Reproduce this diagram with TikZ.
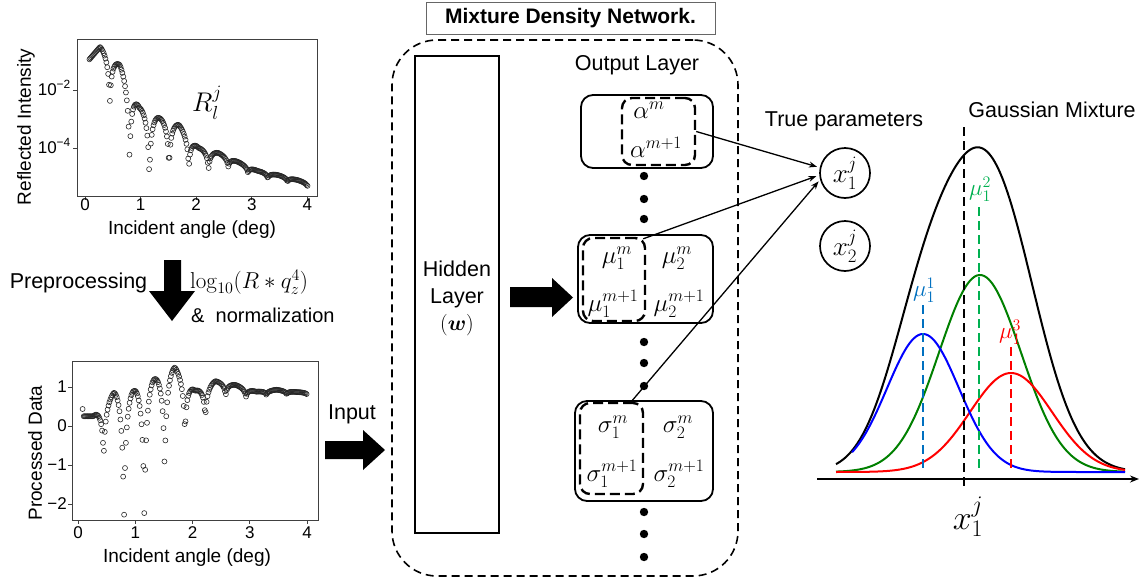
\documentclass[tikz,border=0pt]{standalone}
\usepackage{fix-cm}
\usepackage{amsmath}
\usepackage[no-math]{fontspec}
\setmainfont{Liberation Sans}
\usetikzlibrary{arrows.meta,calc}

\definecolor{mublue}{RGB}{0,112,192}
\definecolor{mugreen}{RGB}{0,176,80}
\definecolor{curvegreen}{RGB}{0,128,0}

\tikzset{
  every node/.style={inner sep=0pt},
  txt/.style={font=\fontsize{21.5}{25}\selectfont},
  axtxt/.style={font=\fontsize{19}{22}\selectfont},
  ticktxt/.style={font=\fontsize{17}{20}\selectfont},
  mth/.style={font=\fontsize{25}{29}\selectfont},
  frame/.style={draw=black!75, line width=0.9pt},
  datapt/.style={draw=black!85, line width=0.6pt},
  outbox/.style={draw, line width=1.8pt, rounded corners=12pt},
  grpbox/.style={draw, line width=2.4pt, dash pattern=on 10pt off 5pt, rounded corners=10pt},
  mdnbox/.style={draw, line width=1.6pt, dash pattern=on 8pt off 5pt, rounded corners=45pt},
  titlebox/.style={draw=black!60, line width=1pt},
  link/.style={line width=1.3pt, -{Stealth[length=8pt,width=6pt]}},
  blockarrow/.style={fill=black},
  param/.style={circle, draw, line width=1.7pt, minimum size=50pt, font=\fontsize{27}{30}\selectfont},
  curve/.style={line width=2pt},
  gdash/.style={line width=2pt, dash pattern=on 9pt off 5pt},
  mulbl/.style={font=\fontsize{23}{27}\selectfont},
}

\begin{document}
\begin{tikzpicture}[x=1pt,y=-1pt]
\useasboundingbox (0,0) rectangle (1143,581);

% ---------------- raw reflectivity plot ----------------
\draw[frame] (77,39) rectangle (317,196);
\foreach \k in {0,...,4}{
  \draw[frame] ({85+55.6*\k},196) -- ++(0,4);
  \node[ticktxt] at ({85+55.6*\k},205) {\k};
}
\draw[frame] (77,90) -- ++(-4,0);
\draw[frame] (77,148) -- ++(-4,0);
\node[ticktxt, anchor=east] at (71,88) {10\textsuperscript{−2}};
\node[ticktxt, anchor=east] at (71,146) {10\textsuperscript{−4}};
\node[axtxt] at (192,230) {Incident angle (deg)};
\node[axtxt, rotate=90] at (26,127) {Reflected Intensity};
\node[font=\fontsize{27}{30}\selectfont] at (207,103) {$R_l^j$};
\foreach \i in {0,...,245}{
  \pgfmathsetmacro\pX{0.08+0.016*\i}
  \pgfmathtruncatemacro\pK{floor((\pX+0.085)/0.355)}
  \pgfmathtruncatemacro\pN{\pK+1}
  \pgfmathsetmacro\pT{(\pX+0.085)/0.355-\pK}
  \pgfmathsetmacro\pF{ln(3.61/(1.81+1.8*cos(360*(\pX-0.27)/0.355)))/5.8889}
  \pgfmathsetmacro\pA{{70,47,65,108,118,125,148,153,162,171,175,180,186,190}[\pK]}
  \pgfmathsetmacro\pB{{70,47,65,108,118,125,148,153,162,171,175,180,186,190}[\pN]}
  \pgfmathsetmacro\pD{{0,45,70,62,44,30,18,9,6,5,4,3,2,2}[\pK]}
  \pgfmathsetmacro\pY{\pA*(1-\pT)+\pB*\pT+\pD*\pF}
  \draw[datapt] ({85+55.6*\pX},\pY) circle[radius=2.5pt];
}

% ---------------- preprocessing step ----------------
\node[txt] (prep) at (78.5,283) {Preprocessing};
\fill[blockarrow] (164,260) -- (181,260) -- (181,291) -- (195,291) -- (172,321) -- (149,291) -- (164,291) -- cycle;
\node[font=\fontsize{23}{27}\selectfont, anchor=west] (formula) at (190,282) {$\log_{10}(R * q_z^4)$};
\node[font=\fontsize{20}{24}\selectfont, anchor=west] (norm) at (191,315) {\&\ \ normalization};

% ---------------- processed data plot ----------------
\draw[frame] (72,361) rectangle (318,520);
\foreach \k in {0,...,4}{
  \draw[frame] ({78+57.3*\k},520) -- ++(0,4);
  \node[ticktxt] at ({78+57.3*\k},533) {\k};
}
\foreach \v/\t in {1/1,0/0,-1/−1,-2/−2}{
  \draw[frame] (72,{426-39*\v}) -- ++(-4,0);
  \node[ticktxt, anchor=east] at (67,{426-39*\v}) {\t};
}
\node[axtxt] at (187,558) {Incident angle (deg)};
\node[axtxt, rotate=90] at (35,453) {Processed Data};
\draw[datapt] (82.6,409) circle[radius=2.5pt];
\foreach \i in {0,...,243}{
  \pgfmathsetmacro\pX{0.1+0.016*\i}
  \pgfmathtruncatemacro\pK{floor((\pX+0.085)/0.355)}
  \pgfmathtruncatemacro\pN{\pK+1}
  \pgfmathsetmacro\pT{(\pX+0.085)/0.355-\pK}
  \pgfmathsetmacro\pF{ln(3.61/(1.81+1.8*cos(360*(\pX-0.27)/0.355)))/5.8889}
  \pgfmathsetmacro\pA{{0.25,0.25,0.85,0.9,1.2,1.5,0.9,1.15,1.05,0.88,0.93,0.87,0.85,0.85}[\pK]}
  \pgfmathsetmacro\pB{{0.25,0.25,0.85,0.9,1.2,1.5,0.9,1.15,1.05,0.88,0.93,0.87,0.85,0.85}[\pN]}
  \pgfmathsetmacro\pD{{0,1.3,3.2,3.3,2.4,1.35,0.78,0.3,0.21,0.1,0.08,0.05,0.03,0.03}[\pK]}
  \pgfmathsetmacro\pY{426-39*(\pA*(1-\pT)+\pB*\pT-\pD*\pF)}
  \draw[datapt] ({78+57.3*\pX},\pY) circle[radius=2.5pt];
}

% ---------------- input arrow ----------------
\node[txt] (inlbl) at (352,414) {Input};
\fill[blockarrow] (325,441) -- (363,441) -- (363,430) -- (385,450) -- (363,470) -- (363,459) -- (325,459) -- cycle;

% ---------------- mixture density network ----------------
\node[titlebox, minimum width=289pt, minimum height=32pt] (title) at (570.5,18) {};
\node[font=\bfseries\fontsize{21}{25}\selectfont] at (title.center) {Mixture Density Network.};
\node[mdnbox, minimum width=346pt, minimum height=536pt] (mdn) at (565,308) {};

\node[draw, line width=2pt, minimum width=84pt, minimum height=477pt] (hidden) at (457,294.5) {};
\node[txt, align=center, font=\fontsize{21.5}{27}\selectfont] at (457,298) {Hidden\\Layer\\$(\boldsymbol{w})$};
\fill[blockarrow] (510,287) -- (552,287) -- (552,278) -- (573,297.5) -- (552,317) -- (552,307) -- (510,307) -- cycle;

\node[txt] (outlbl) at (637,65) {Output Layer};

% alpha block
\node[outbox, minimum width=132pt, minimum height=73pt] (abox) at (647,131.5) {};
\node[grpbox, minimum width=73pt, minimum height=67pt] (ain) at (658.5,131.5) {};
\node[mth] at (649,110) {$\alpha^{m}$};
\node[mth] at (656,147) {$\alpha^{m+1}$};

% mu block
\node[outbox, minimum width=135pt, minimum height=88pt] (mbox) at (645.5,279) {};
\node[grpbox, minimum width=62pt, minimum height=83pt] (min) at (614,279.5) {};
\node[mth] at (617,258) {$\mu_1^{m}$};
\node[mth] at (677,258) {$\mu_2^{m}$};
\node[mth] at (613,304) {$\mu_1^{m+1}$};
\node[mth] at (679,304) {$\mu_2^{m+1}$};

% sigma block
\node[outbox, minimum width=138pt, minimum height=100pt] (sbox) at (644,451) {};
\node[grpbox, minimum width=63pt, minimum height=91pt] (sin) at (611.5,448.5) {};
\node[mth] at (613,427) {$\sigma_1^{m}$};
\node[mth] at (678,427) {$\sigma_2^{m}$};
\node[mth] at (612,474) {$\sigma_1^{m+1}$};
\node[mth] at (679,474) {$\sigma_2^{m+1}$};

% ellipsis dots between the blocks
\foreach \yy in {176,199,219,342,363,386,512,534,557}{
  \fill (644,\yy) circle[radius=4.2pt];
}

% ---------------- true parameters ----------------
\node[txt] (truelbl) at (844,121) {True parameters};
\node[param] (x1) at (845,173) {$x_1^j$};
\node[param] (x2) at (845,246) {$x_2^j$};

\draw[link] (ain.east) -- ([xshift=-3pt]x1.166);
\draw[link] ([xshift=-3pt,yshift=-2pt]min.north east) -- ([xshift=-3pt]x1.187);
\draw[link] ($(sin.north)!0.6!(sin.north east)$) -- ([xshift=-2pt]x1.199);

% ---------------- gaussian mixture ----------------
\node[txt] (gmlbl) at (1052,110) {Gaussian Mixture};
\coordinate (ax0) at (817,479);
\coordinate (ax1) at (1139,479);
\draw[line width=1.8pt, -{Stealth[length=9pt,width=7pt]}] (ax0) -- (ax1);

\draw[curve, black] plot[domain=836:1125, samples=150, smooth]
  (\x, {472-(197*exp(-0.5*((\x-980)/41)^2)+138*exp(-0.5*((\x-923)/36)^2)+99*exp(-0.5*((\x-1011)/41)^2)+15*exp(-0.5*((\x-1000)/45)^2))});
\draw[curve, curvegreen] plot[domain=836:1125, samples=120, smooth]
  (\x, {472-197*exp(-0.5*((\x-980)/41)^2)});
\draw[curve, red] plot[domain=836:1125, samples=120, smooth]
  (\x, {472-99*exp(-0.5*((\x-1011)/41)^2)});
\draw[curve, blue] plot[domain=852:1125, samples=120, smooth]
  (\x, {472-138*exp(-0.5*((\x-923)/36)^2)});

\coordinate (mtop) at (964,127);
\coordinate (mbot) at (964,488);
\draw[gdash, black] (mtop) -- (mbot);
\node[font=\fontsize{34}{38}\selectfont] (xlbl) at (968,517) {$x_1^j$};

\node[mulbl, text=mublue] (m1) at (924,290) {$\mu_1^1$};
\node[mulbl, text=mugreen] (m2) at (980,189) {$\mu_1^2$};
\node[mulbl, text=red] (m3) at (1010,332) {$\mu_1^3$};
\coordinate (m1b) at (923,470);
\coordinate (m2b) at (979,470);
\coordinate (m3b) at (1011,470);
\draw[gdash, mublue] (923,305) -- (m1b);
\draw[gdash, mugreen] (979,207) -- (m2b);
\draw[gdash, red] (1011,347) -- (m3b);
\end{tikzpicture}
\end{document}
